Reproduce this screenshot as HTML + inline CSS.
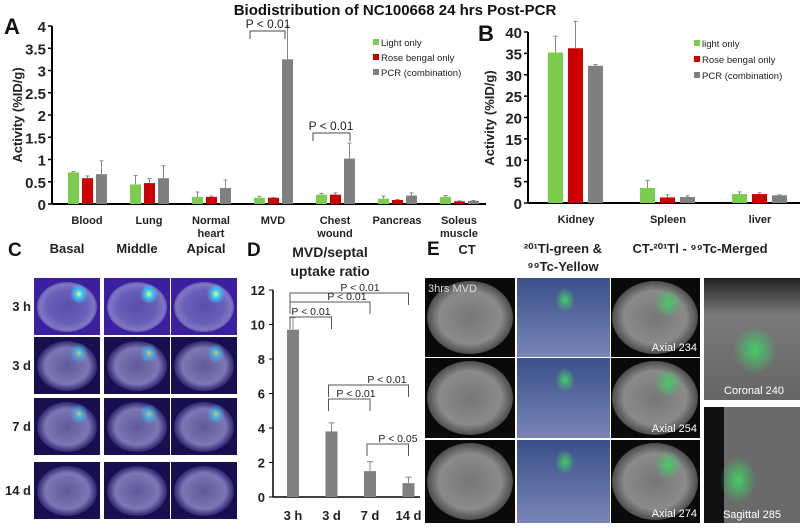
<!DOCTYPE html>
<html><head><meta charset="utf-8">
<style>
body{margin:0;background:#fff;width:800px;height:529px;overflow:hidden;font-family:"Liberation Sans",Arial,sans-serif}
svg{display:block}
text{font-family:"Liberation Sans",Arial,sans-serif}
</style></head>
<body>
<svg id="fig" width="800" height="529" viewBox="0 0 800 529">
<defs>
<radialGradient id="scanC" cx="50%" cy="50%" r="60%"><stop offset="0" stop-color="#5a4fa8"/><stop offset="0.55" stop-color="#6a5fb8"/><stop offset="0.75" stop-color="#7f77c4"/><stop offset="1" stop-color="#2a1a78"/></radialGradient>
<radialGradient id="scanC2" cx="50%" cy="50%" r="60%"><stop offset="0" stop-color="#5e5a9a"/><stop offset="0.6" stop-color="#7c78b4"/><stop offset="0.8" stop-color="#3a2f7a"/><stop offset="1" stop-color="#1a1250"/></radialGradient>
<radialGradient id="ct" cx="50%" cy="50%" r="60%"><stop offset="0" stop-color="#777"/><stop offset="0.6" stop-color="#8a8a8a"/><stop offset="0.8" stop-color="#555"/><stop offset="1" stop-color="#0a0a0a"/></radialGradient>
<linearGradient id="blue" x1="0" y1="0" x2="0" y2="1"><stop offset="0" stop-color="#3a4f8a"/><stop offset="1" stop-color="#7a85b5"/></linearGradient>
<linearGradient id="ctv" x1="0" y1="0" x2="0" y2="1"><stop offset="0" stop-color="#222"/><stop offset="0.3" stop-color="#7a7a7a"/><stop offset="1" stop-color="#666"/></linearGradient>
<radialGradient id="hot" cx="50%" cy="50%" r="50%"><stop offset="0" stop-color="#ff3"/><stop offset="0.4" stop-color="#3cf"/><stop offset="1" stop-color="#3cf" stop-opacity="0"/></radialGradient>
<radialGradient id="grn" cx="50%" cy="50%" r="50%"><stop offset="0" stop-color="#4c6" /><stop offset="1" stop-color="#4c6" stop-opacity="0"/></radialGradient>
</defs>
<text x="395" y="15" text-anchor="middle" font-size="15" font-weight="bold" fill="#111">Biodistribution of NC100668 24 hrs Post-PCR</text>
<g id="gA"></g>
<g id="gB"></g>
<g id="gD"></g>
<g id="gC"></g>
<g id="gE"></g>
</svg>
<script>
const NS="http://www.w3.org/2000/svg";
function mk(p,tag,a,txt){const e=document.createElementNS(NS,tag);for(const k in a)e.setAttribute(k,a[k]);if(txt!==undefined)e.textContent=txt;p.appendChild(e);return e;}
const COLORS=["#7ccc4e","#cc0000","#7f7f7f"];

// Panel A data
const catsA=["Blood","Lung","Normal|heart","MVD","Chest|wound","Pancreas","Soleus|muscle"];
const lightA=[0.71,0.44,0.16,0.14,0.21,0.12,0.16];
const roseA=[0.58,0.47,0.16,0.14,0.21,0.09,0.06];
const pcrA=[0.67,0.58,0.36,3.25,1.02,0.19,0.07];
const lightAErr=[0.02,0.2,0.11,0.03,0.03,0.06,0.03];
const roseAErr=[0.05,0.1,0.02,0.01,0.04,0.01,0.01];
const pcrAErr=[0.3,0.28,0.18,0.75,0.35,0.06,0.01];
const ticksA=[0,0.5,1,1.5,2,2.5,3,3.5,4];
// Panel B data
const catsB=["Kidney","Spleen","liver"];
const lightB=[35.2,3.5,2.1];
const roseB=[36.2,1.3,2.1];
const pcrB=[32.1,1.4,1.8];
const lightBErr=[3.8,1.8,0.5];
const roseBErr=[6.3,0.6,0.3];
const pcrBErr=[0.3,0.3,0.1];
const ticksB=[0,5,10,15,20,25,30,35,40];
// Panel D data
const catsD=["3 h","3 d","7 d","14 d"];
const valsD=[9.7,3.8,1.5,0.8];
const errD=[0.7,0.5,0.55,0.35];
const ticksD=[0,2,4,6,8,10,12];

function groupChart(g,o){
  const y=v=>o.y0-(v-o.min)/(o.max-o.min)*(o.y0-o.y1);
  const x=i=>o.x0+o.first+i*o.step;
  mk(g,"line",{x1:o.ax,y1:o.y1,x2:o.ax,y2:o.y0,stroke:"#000","stroke-width":2});
  mk(g,"line",{x1:o.ax,y1:o.y0,x2:o.xend,y2:o.y0,stroke:"#000","stroke-width":2});
  o.ticks.forEach(t=>{
    const tk=mk(g,"line",{x1:o.ax-4,y1:y(t),x2:o.ax,y2:y(t),stroke:"#000","stroke-width":1.5});
    
    
    const tl=mk(g,"text",{x:o.ax-6,y:y(t)+6,"text-anchor":"end","font-size":o.tfs,"font-weight":"bold",fill:"#222"},String(t));
    
    
  });
  o.cats.forEach((c,i)=>{
    o.series.forEach((s,j)=>{
      const bx=x(i)+o.offs[j];const v=s[i];const e=o.errs[j][i];
      const r=mk(g,"rect",{x:bx,y:y(v),width:o.bw,height:o.y0-y(v),fill:COLORS[j]});
      
      
      const cx=bx+o.bw/2;
      const eb=mk(g,"path",{d:`M${cx},${y(v)}V${y(v+e)}M${cx-2},${y(v+e)}H${cx+2}`,stroke:"#888","stroke-width":1,fill:"none"});
      
      
    });
    const parts=c.split("|");
    parts.forEach((p,k)=>{
      const t=mk(g,"text",{x:x(i)+o.lblOff,y:o.y0+20+k*13,"text-anchor":"middle","font-size":11,"font-weight":"bold",fill:"#222"},p);
      
      
    });
  });
  return y;
}
const gA=document.getElementById("gA");
const yA=groupChart(gA,{ax:52,x0:52,xend:486,y0:204,y1:26,min:0,max:4,ticks:ticksA,tfs:15,cats:catsA,first:16,step:62,bw:11,offs:[0,14,28],lblOff:19,
  series:[lightA,roseA,pcrA],errs:[lightAErr,roseAErr,pcrAErr],snames:["light","rose","pcr"]});
mk(gA,"text",{x:4,y:34,"font-size":22,"font-weight":"bold",fill:"#111",},"A");
mk(gA,"text",{x:0,y:0,transform:"translate(22,115) rotate(-90)","text-anchor":"middle","font-size":13,"font-weight":"bold",fill:"#222",},"Activity (%ID/g)");
mk(gA,"path",{d:"M250,39V31H285V39",stroke:"#446","fill":"none","stroke-width":1,});
mk(gA,"text",{x:268,y:28,"text-anchor":"middle","font-size":12,fill:"#222",},"P < 0.01");
mk(gA,"path",{d:"M313,141V133H350V141",stroke:"#446","fill":"none","stroke-width":1,});
mk(gA,"text",{x:331,y:130,"text-anchor":"middle","font-size":12,fill:"#222",},"P < 0.01");
["Light only","Rose bengal only","PCR (combination)"].forEach((n,i)=>{
  const lg=mk(gA,"g",{});
  
  
  mk(lg,"rect",{x:373,y:39+i*15,width:6,height:6,fill:COLORS[i]});
  mk(lg,"text",{x:381,y:46+i*15,"font-size":9.5,fill:"#222"},n);
});

const gB=document.getElementById("gB");
groupChart(gB,{ax:528,x0:528,xend:800,y0:203,y1:32,min:0,max:40,ticks:ticksB,tfs:15,cats:catsB,first:20,step:92,bw:15,offs:[0,20,40],lblOff:28,
  series:[lightB,roseB,pcrB],errs:[lightBErr,roseBErr,pcrBErr],snames:["light","rose","pcr"]});
mk(gB,"text",{x:478,y:41,"font-size":22,"font-weight":"bold",fill:"#111",},"B");
mk(gB,"text",{x:0,y:0,transform:"translate(494,118) rotate(-90)","text-anchor":"middle","font-size":13,"font-weight":"bold",fill:"#222",},"Activity (%ID/g)");
["light only","Rose bengal only","PCR (combination)"].forEach((n,i)=>{
  const lg=mk(gB,"g",{});
  
  
  mk(lg,"rect",{x:694,y:40+i*16,width:6,height:6,fill:COLORS[i]});
  mk(lg,"text",{x:702,y:47+i*16,"font-size":9.5,fill:"#222"},n);
});

// Panel D
const gD=document.getElementById("gD");
const yD=v=>497-v/12*(497-290);
const xD=i=>293+i*38.5;
mk(gD,"line",{x1:273,y1:290,x2:273,y2:497,stroke:"#000","stroke-width":1.5});
mk(gD,"line",{x1:273,y1:497,x2:420,y2:497,stroke:"#000","stroke-width":1.5});
ticksD.forEach(t=>{
  const tk=mk(gD,"line",{x1:269,y1:yD(t),x2:273,y2:yD(t),stroke:"#000"});
  
  
  const tl=mk(gD,"text",{x:265,y:yD(t)+5,"text-anchor":"end","font-size":13,"font-weight":"bold",fill:"#222"},String(t));
  
  
});
catsD.forEach((c,i)=>{
  const r=mk(gD,"rect",{x:xD(i)-6,y:yD(valsD[i]),width:12,height:497-yD(valsD[i]),fill:"#808080"});
  
  
  const e=mk(gD,"path",{d:`M${xD(i)},${yD(valsD[i])}V${yD(valsD[i]+errD[i])}M${xD(i)-3},${yD(valsD[i]+errD[i])}H${xD(i)+3}`,stroke:"#888",fill:"none"});
  
  
  const t=mk(gD,"text",{x:xD(i),y:520,"text-anchor":"middle","font-size":13,"font-weight":"bold",fill:"#222"},c);
  
  
});
mk(gD,"text",{x:247,y:256,"font-size":19,"font-weight":"bold",fill:"#111",},"D");
mk(gD,"text",{x:330,y:257,"text-anchor":"middle","font-size":14,"font-weight":"bold",fill:"#222",},"MVD/septal");
mk(gD,"text",{x:330,y:276,"text-anchor":"middle","font-size":14,"font-weight":"bold",fill:"#222",},"uptake ratio");
[[0,3,293,"P < 0.01",360],[0,2,302,"P < 0.01",347],[0,1,317,"P < 0.01",311],[1,3,385,"P < 0.01",387],[1,2,399,"P < 0.01",356],[2,3,444,"P < 0.05",398]].forEach(b=>{
  const [a,c,yy,t,tx]=b;
  const p=mk(gD,"path",{d:`M${xD(a)-3},${yy+12}V${yy}H${xD(c)}V${yy+12}`,stroke:"#555",fill:"none"});
  
  
  const tt=mk(gD,"text",{x:tx,y:yy-2,"text-anchor":"middle","font-size":10.5,fill:"#222"},t);
  
  
});

// Panel C images
const gC=document.getElementById("gC");
mk(gC,"text",{x:8,y:256,"font-size":19,"font-weight":"bold",fill:"#111",},"C");
[["Basal",67],["Middle",137],["Apical",206]].forEach(h=>{mk(gC,"text",{x:h[1],y:253,"text-anchor":"middle","font-size":13,"font-weight":"bold",fill:"#222",},h[0]);});
const rowsC=[["3 h",278],["3 d",337],["7 d",398],["14 d",462]];
const colsC=[34,104,171];
rowsC.forEach((r,ri)=>{
  mk(gC,"text",{x:31,y:r[1]+33,"text-anchor":"end","font-size":13,"font-weight":"bold",fill:"#222",},r[0]);
  colsC.forEach((cx,ci)=>{
    const im=mk(gC,"g",{});
    
    
    mk(im,"rect",{x:cx,y:r[1],width:66,height:57,fill:ri==0?"#3b1fa0":"#1a0f4e"});
    mk(im,"ellipse",{cx:cx+33,cy:r[1]+29,rx:30,ry:25,fill:ri==0?"url(#scanC)":"url(#scanC2)"});
    if(ri<3) mk(im,"ellipse",{cx:cx+45,cy:r[1]+16,rx:9,ry:10,fill:"url(#hot)",opacity:ri==0?1:0.6});
  });
});

// Panel E images
const gE=document.getElementById("gE");
mk(gE,"text",{x:427,y:255,"font-size":19,"font-weight":"bold",fill:"#111",},"E");
mk(gE,"text",{x:467,y:254,"text-anchor":"middle","font-size":13,"font-weight":"bold",fill:"#222",},"CT");
mk(gE,"text",{x:563,y:253,"text-anchor":"middle","font-size":13,"font-weight":"bold",fill:"#222",},"²⁰¹Tl-green &");
mk(gE,"text",{x:563,y:271,"text-anchor":"middle","font-size":13,"font-weight":"bold",fill:"#222",},"⁹⁹Tc-Yellow");
mk(gE,"text",{x:700,y:253,"text-anchor":"middle","font-size":13,"font-weight":"bold",fill:"#222",},"CT-²⁰¹Tl - ⁹⁹Tc-Merged");
const rowsE=[[278,79],[358,80],[440,83]];
const labelsE=["Axial 234","Axial 254","Axial 274"];
rowsE.forEach((r,ri)=>{
  const a=mk(gE,"g",{});
  mk(a,"rect",{x:425,y:r[0],width:90,height:r[1],fill:"#0a0a0a"});
  mk(a,"ellipse",{cx:470,cy:r[0]+r[1]/2,rx:43,ry:r[1]/2-3,fill:"url(#ct)"});
  const b=mk(gE,"g",{});
  mk(b,"rect",{x:517,y:r[0],width:93,height:r[1],fill:"url(#blue)"});
  mk(b,"ellipse",{cx:565,cy:r[0]+22,rx:10,ry:12,fill:"url(#grn)"});
  const c=mk(gE,"g",{});
  mk(c,"rect",{x:611,y:r[0],width:89,height:r[1],fill:"#0a0a0a"});
  mk(c,"ellipse",{cx:655,cy:r[0]+r[1]/2,rx:43,ry:r[1]/2-3,fill:"url(#ct)"});
  mk(c,"ellipse",{cx:668,cy:r[0]+25,rx:13,ry:14,fill:"url(#grn)"});
  mk(c,"text",{x:697,y:r[0]+r[1]-6,"text-anchor":"end","font-size":11,fill:"#fff"},labelsE[ri]);
});
mk(gE,"text",{x:428,y:292,"font-size":11,fill:"#ddd",},"3hrs MVD");
const cor=mk(gE,"g",{});
mk(cor,"rect",{x:704,y:278,width:96,height:122,fill:"url(#ctv)"});
mk(cor,"ellipse",{cx:755,cy:350,rx:22,ry:24,fill:"url(#grn)"});
mk(cor,"text",{x:754,y:394,"text-anchor":"middle","font-size":11,fill:"#fff"},"Coronal 240");
const sag=mk(gE,"g",{});
mk(sag,"rect",{x:704,y:407,width:96,height:116,fill:"#6a6a6a"});
mk(sag,"rect",{x:704,y:407,width:20,height:116,fill:"#111"});
mk(sag,"ellipse",{cx:738,cy:480,rx:18,ry:24,fill:"url(#grn)"});
mk(sag,"text",{x:752,y:518,"text-anchor":"middle","font-size":11,fill:"#fff"},"Sagittal 285");
</script>
</body></html>
